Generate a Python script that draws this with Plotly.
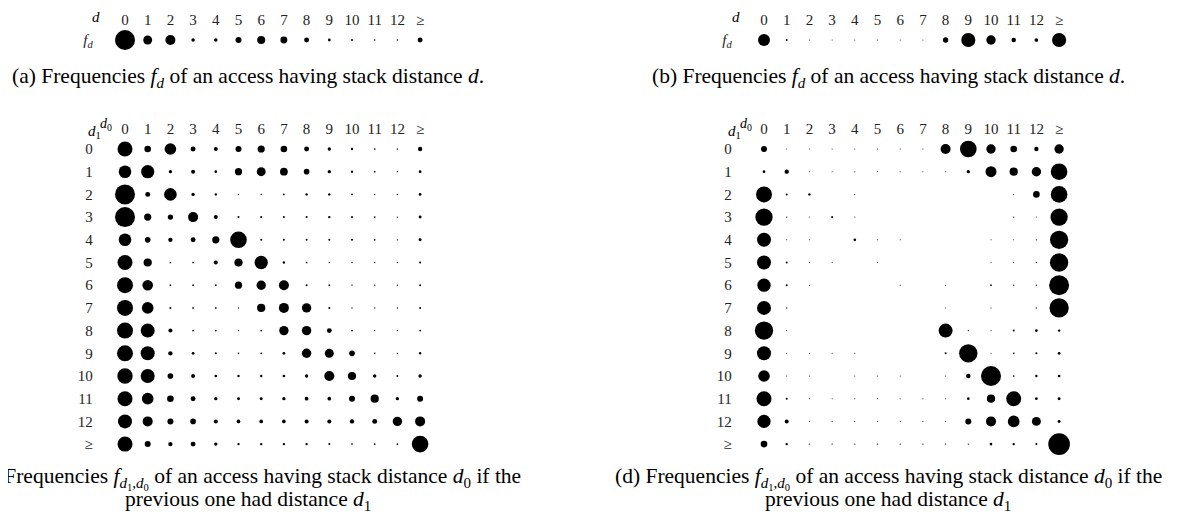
import numpy as np
import plotly.graph_objects as go

W, H = 1181, 514

# column / row labels (stack distances)
dist_labels = ["0", "1", "2", "3", "4", "5", "6", "7", "8", "9", "10", "11", "12", "≥"]

# (a) single-access frequencies f_d
freq_a = [100, 20, 25, 3, 3, 9, 16, 12, 6, 2, 1, 0.6, 0.6, 6]

# (b) single-access frequencies f_d
freq_b = [36, 0.9, 0.15, 0.15, 0.15, 0.15, 0.15, 0.15, 6.9, 50, 22, 5, 3.5, 50]

# (c) pair frequencies f_{d1,d0}; rows = d1, columns = d0
freq_c = [
    [56, 11, 34, 6, 4, 9, 13, 11, 6, 2.8, 1.4, 0.7, 0.44, 4.7],
    [40, 44, 2.8, 4, 1.8, 13, 20, 15, 8, 2.8, 1.4, 0.7, 0.44, 1.8],
    [100, 6, 40, 2.8, 1.4, 0.44, 0.44, 0.7, 1.4, 1.4, 0.7, 0.44, 0.44, 1.8],
    [100, 13, 7, 25, 4, 1, 1, 1, 1, 1.4, 1, 0.7, 0.44, 2.2],
    [40, 8, 4.7, 6, 13, 69, 1, 1, 1, 1, 1, 0.7, 0.44, 2.2],
    [56, 17, 0.7, 0.7, 4, 17, 44, 1.4, 0.7, 0.44, 0.44, 0.44, 0.44, 1],
    [64, 28, 0.7, 0.7, 0.7, 13, 22, 25, 1, 0.7, 0.44, 0.44, 0.44, 1],
    [64, 34, 1, 0.7, 0.7, 0.44, 17, 25, 22, 1, 0.44, 0.44, 0.44, 1],
    [64, 49, 4, 0.7, 0.7, 0.44, 0.7, 22, 22, 6, 0.7, 0.44, 0.44, 0.7],
    [64, 49, 4.7, 1.8, 1, 0.7, 0.7, 1.8, 22, 20, 8, 0.7, 0.44, 1.4],
    [59, 49, 8, 4, 1.8, 1.4, 1.4, 1.8, 2.8, 25, 17, 2.8, 1, 2.8],
    [56, 34, 11, 6, 2.8, 2.2, 2.2, 2.8, 3.4, 3.4, 9, 17, 2.8, 9],
    [49, 25, 9, 8, 4, 3.4, 3.4, 3.4, 4, 4, 4.7, 6, 22, 25],
    [56, 9, 4.7, 6, 2.8, 1.4, 1.4, 1.4, 1.4, 1, 0.7, 0.7, 0.7, 69],
]

# (d) pair frequencies f_{d1,d0}; 0 = no access at all
s = 0.15
freq_d = [
    [9, s, s, s, s, s, s, s, 25, 69, 22, 11, 4.7, 22],
    [1.8, 4.7, s, s, s, s, s, s, s, 2.8, 30, 17, 22, 69],
    [64, 1, 1.4, 0, s, 0, 0, 0, 0, 0, 0, s, 11, 69],
    [75, 0.44, s, 1, s, 0, 0, 0, 0, 0, 0, 0.44, s, 75],
    [49, 0.3, s, 0, 1.8, s, s, 0, 0, 0, s, s, 0.44, 84],
    [49, 1, s, s, 0, s, 0, 0, 0, 0, s, s, 0.44, 84],
    [44, 1, s, 0, 0, 0, s, 0, s, 0, 0.7, 0.44, 0.44, 100],
    [49, 0.44, 0, 0, 0, 0, 0, 0, s, 0, s, 0, 0.44, 93],
    [84, s, 0, 0, 0, 0, 0, 0, 49, 0.44, s, 1, 1.8, 1.4],
    [49, s, s, s, s, 0, 0, 0, 1, 84, s, 0.7, 1, 1.8],
    [34, s, s, 0, s, s, s, 0, s, 4.7, 100, 0.7, 1.4, 1.8],
    [56, 1, s, s, s, s, s, s, s, 1.8, 17, 56, 1.8, 2.2],
    [44, 4, s, s, s, s, s, s, s, 9, 25, 34, 20, 2.2],
    [11, 1.4, 0.44, 0.44, 0.44, 0.44, 0.44, 0.44, 0.44, 0.44, 1.8, 1.4, 1, 117],
]

SERIF = "Liberation Serif"
TICK = dict(family=SERIF, size=15, color="#222")
STEP = 22.7  # pixel pitch of the dot grid


def px_x(x):
    return x / W


def px_y(y):
    return 1 - y / H


def dot_sizes(values):
    return [max(2 * np.sqrt(v), 1.0) for v in values]


fig = go.Figure()


def add_panel(idx, col0_x, row0_y, nrows, matrix, row_ticks):
    """Dot matrix on its own pair of axes; col0_x/row0_y = pixel centre of cell (0,0)."""
    xs, ys, vals = [], [], []
    for r, row in enumerate(matrix):
        for c, v in enumerate(row):
            if v > 0:
                xs.append(c)
                ys.append(r)
                vals.append(v)
    sfx = "" if idx == 1 else str(idx)
    fig.add_trace(go.Scatter(
        x=xs, y=ys, mode="markers",
        marker=dict(size=dot_sizes(vals), color="black", opacity=1, line=dict(width=0)),
        xaxis="x" + sfx, yaxis="y" + sfx,
        hovertemplate="d0=%{x}<br>d1=%{y}<extra></extra>",
        showlegend=False,
    ))
    left = col0_x - STEP / 2
    right = left + STEP * len(dist_labels)
    top = row0_y - STEP / 2
    bottom = top + STEP * nrows
    fig.layout["xaxis" + sfx] = dict(
        domain=[px_x(left), px_x(right)], range=[-0.5, len(dist_labels) - 0.5],
        anchor="y" + sfx, side="top", showgrid=False, zeroline=False,
        showline=False, ticks="", tickvals=list(range(len(dist_labels))),
        ticktext=dist_labels, tickfont=TICK, fixedrange=True,
    )
    fig.layout["yaxis" + sfx] = dict(
        domain=[px_y(bottom), px_y(top)], range=[nrows - 0.5, -0.5],
        anchor="x" + sfx, showgrid=False, zeroline=False, showline=False,
        ticks="", fixedrange=True, tickfont=TICK,
        tickvals=list(range(nrows)), ticktext=row_ticks, ticklabelstandoff=20,
    )


fd = ["<i>f</i><sub><i>d</i></sub>"]
add_panel(1, 117, 32, 1, [freq_a], fd)
add_panel(2, 756, 32, 1, [freq_b], fd)
add_panel(3, 117, 141, len(dist_labels), freq_c, dist_labels)
add_panel(4, 756, 141, len(dist_labels), freq_d, dist_labels)

annotations = []


def note(x, y, text, size=15):
    annotations.append(dict(x=px_x(x), y=px_y(y), xref="paper", yref="paper",
                            text=text, showarrow=False, xanchor="center", yanchor="middle",
                            font=dict(family=SERIF, size=size, color="black")))


# corner headers
note(88, 9, "<i>d</i>")
note(728, 9, "<i>d</i>")
for cx in (86, 726):
    note(cx, 124, "<i>d</i><sub>1</sub>")
    note(cx + 12, 117, "<i>d</i><sub>0</sub>", size=14)

# captions
CAP = 21.5
cap_ab = "Frequencies <i>f</i><sub><i>d</i></sub> of an access having stack distance <i>d</i>."
note(240, 70, "(a) " + cap_ab, size=CAP)
note(880, 70, "(b) " + cap_ab, size=CAP)
cap_cd = ("Frequencies <i>f</i><sub><i>d</i><sub>1</sub>,<i>d</i><sub>0</sub></sub> of an access "
          "having stack distance <i>d</i><sub>0</sub> if the")
line2 = "previous one had distance <i>d</i><sub>1</sub>"
note(240, 470, "(c) " + cap_cd, size=CAP)
note(240, 492, line2, size=CAP)
note(880, 470, "(d) " + cap_cd, size=CAP)
note(880, 492, line2, size=CAP)

fig.update_layout(
    width=W, height=H,
    margin=dict(l=0, r=0, t=0, b=0),
    paper_bgcolor="white", plot_bgcolor="white",
    annotations=annotations,
    showlegend=False,
)

fig.write_html("out.html")
